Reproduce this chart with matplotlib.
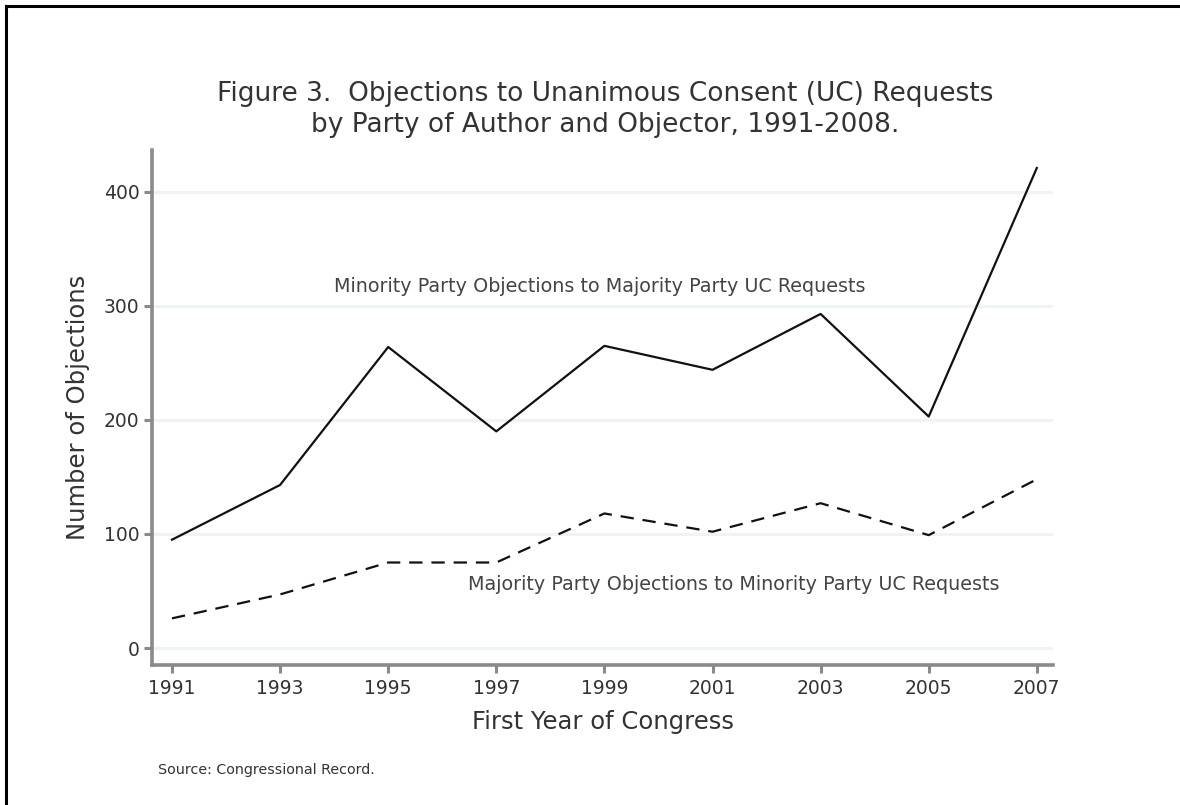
import matplotlib
matplotlib.use('Agg')
import matplotlib.pyplot as plt
from matplotlib.lines import Line2D

# first year of each Congress
years = [1991, 1993, 1995, 1997, 1999, 2001, 2003, 2005, 2007]
# minority objecting to majority requests (solid)
minority_obj = [95, 143, 264, 190, 265, 244, 293, 203, 421]
# majority objecting to minority requests (dashed)
majority_obj = [26, 47, 75, 75, 118, 102, 127, 99, 148]

y_ticks = [0, 100, 200, 300, 400]

plt.rcParams['font.family'] = 'DejaVu Sans'

fig = plt.figure(figsize=(11.8, 8.05), dpi=100)
ax = fig.add_axes([0.1288, 0.1739, 0.7636, 0.6398])

ax.plot(years, minority_obj, color='#111111', linewidth=1.6)
ax.plot(years, majority_obj, color='#111111', linewidth=1.6, linestyle=(0, (6, 4)))

ax.set_xlim(1990.63, 2007.3)
ax.set_ylim(-14.9, 436.8)
ax.set_xticks(years)
ax.set_yticks(y_ticks)
ax.grid(axis='y', color='#edf4f3', linewidth=2.2)
ax.set_axisbelow(True)

for side in ['top', 'right']:
    ax.spines[side].set_visible(False)
for side in ['left', 'bottom']:
    ax.spines[side].set_color('#8a8a8a')
    ax.spines[side].set_linewidth(2.6)
ax.tick_params(axis='both', colors='#8a8a8a', length=6, width=2.2, labelcolor='#333333', labelsize=13.5)
ax.tick_params(axis='x', pad=4)
ax.tick_params(axis='y', pad=3)

ax.set_xlabel('First Year of Congress', fontsize=17.5, color='#333333', labelpad=9)
ax.set_ylabel('Number of Objections', fontsize=17.5, color='#333333', labelpad=10)

ax.text(1998.92, 317, 'Minority Party Objections to Majority Party UC Requests',
        ha='center', va='center', fontsize=13.8, color='#444444')
ax.text(2001.4, 56, 'Majority Party Objections to Minority Party UC Requests',
        ha='center', va='center', fontsize=13.8, color='#444444')

fig.text(0.513, 0.864, 'Figure 3.  Objections to Unanimous Consent (UC) Requests\nby Party of Author and Objector, 1991-2008.',
         ha='center', va='center', fontsize=19, color='#333333', linespacing=1.25)
fig.text(0.134, 0.043, 'Source: Congressional Record.', ha='left', va='center',
         fontsize=10.3, color='#333333')

# frame lines on left and top of the page
fig.add_artist(Line2D([0.0055, 0.0055], [0, 0.9925], color='black', linewidth=2.2, transform=fig.transFigure))
fig.add_artist(Line2D([0.0055, 1.0], [0.9925, 0.9925], color='black', linewidth=2.2, transform=fig.transFigure))

fig.savefig('out.png', dpi=100)
